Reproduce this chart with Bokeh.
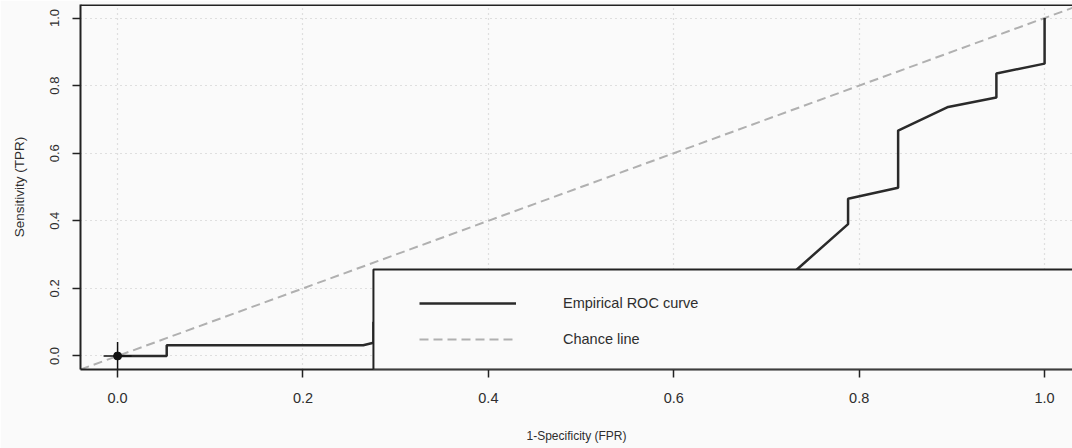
from bokeh.plotting import figure
from bokeh.models import (Legend, LegendItem, BoxAnnotation, Span,
                          FixedTicker, PrintfTickFormatter)
from bokeh.embed import file_html
from bokeh.resources import INLINE

# ---- data ----
fpr = [0.0, 0.053, 0.053, 0.265, 0.276, 0.276, 0.55, 0.70, 0.734, 0.788, 0.788,
       0.842, 0.842, 0.896, 0.948, 0.948, 1.0, 1.0]
tpr = [0.0, 0.0, 0.032, 0.032, 0.039, 0.10, 0.12, 0.17, 0.259, 0.390, 0.465,
       0.498, 0.667, 0.737, 0.765, 0.836, 0.865, 1.0]
opt_fpr = [0.0]
opt_tpr = [0.0]
ticks = [0.0, 0.2, 0.4, 0.6, 0.8, 1.0]
x_title = "1-Specificity (FPR)"
y_title = "Sensitivity (TPR)"
legend_labels = ["Empirical ROC curve", "Chance line"]

# ---- layout constants ----
X_MIN, X_MAX = -0.04, 1.0301
Y_MIN, Y_MAX = -0.04, 1.04
LEG_LEFT, LEG_TOP = 0.276, 0.256
FONT = "Liberation Sans"
TXT = "#2e2e2e"
BG = "#fafafa"
INK = "#222222"

# chance line spans the whole plotting region (y = x)
chance_x = [X_MIN, X_MAX]
chance_y = [X_MIN, X_MAX]

p = figure(width=1072, height=448, x_range=(X_MIN, X_MAX), y_range=(Y_MIN, Y_MAX),
           output_backend="svg", toolbar_location=None,
           min_border_left=80, min_border_right=0, min_border_top=4,
           min_border_bottom=79)
p.background_fill_color = BG
p.border_fill_color = BG
p.outline_line_color = None

# axes
for ax in (p.xaxis[0], p.yaxis[0]):
    ax.ticker = FixedTicker(ticks=ticks)
    ax.formatter = PrintfTickFormatter(format="%.1f")
    ax.axis_line_width = 2
    ax.axis_line_color = INK
    ax.major_tick_in = 0
    ax.major_tick_out = 8
    ax.major_tick_line_width = 1.5
    ax.major_tick_line_color = INK
    ax.minor_tick_line_color = None
    ax.major_label_text_font = FONT
    ax.major_label_text_color = TXT
    ax.axis_label_text_font = FONT
    ax.axis_label_text_color = TXT
    ax.axis_label_text_font_style = "normal"

p.xaxis.axis_label = x_title
p.xaxis.major_label_text_font_size = "14.5px"
p.xaxis.axis_label_text_font_size = "12px"
p.xaxis.major_label_standoff = 15
p.xaxis.axis_label_standoff = 23

p.yaxis.axis_label = y_title
p.yaxis.major_label_orientation = "vertical"
p.yaxis.major_label_text_font_size = "13px"
p.yaxis.axis_label_text_font_size = "13.5px"
p.yaxis.major_label_standoff = 13
p.yaxis.axis_label_standoff = 21

# grid
p.grid.grid_line_color = "#c4c4c4"
p.grid.grid_line_dash = "1 4"
p.grid.grid_line_width = 1.2

# top border of the box
p.add_layout(Span(location=Y_MAX, dimension="width", line_color=INK, line_width=3))

# chance line
chance_r = p.line(chance_x, chance_y, line_color="#b0b0b0", line_dash="9 5", line_width=2)

# ROC curve
roc_r = p.line(fpr, tpr, line_color="#2a2a2a", line_width=2.5)

# optimal point marker
p.scatter(opt_fpr, opt_tpr, marker="cross", size=28, line_color="#111111", line_width=1.5)
p.scatter(opt_fpr, opt_tpr, marker="circle", size=8, fill_color="#111111", line_color="#111111")

# legend box (opaque, covers the curve) and legend entries
p.add_layout(BoxAnnotation(left=LEG_LEFT, top=LEG_TOP, right=1.3, bottom=Y_MIN,
                           fill_color=BG, fill_alpha=1.0,
                           line_color=INK, line_alpha=1.0, line_width=2))
legend = Legend(items=[LegendItem(label=legend_labels[0], renderers=[roc_r]),
                       LegendItem(label=legend_labels[1], renderers=[chance_r])],
                location=(339, 20), orientation="vertical", padding=0, margin=0,
                spacing=16, glyph_width=97, glyph_height=20, label_height=20,
                label_standoff=47, border_line_color=None, background_fill_alpha=0,
                label_text_font=FONT, label_text_font_size="14.5px",
                label_text_color=TXT)
p.add_layout(legend)

open("out.html", "w").write(file_html(p, INLINE))
